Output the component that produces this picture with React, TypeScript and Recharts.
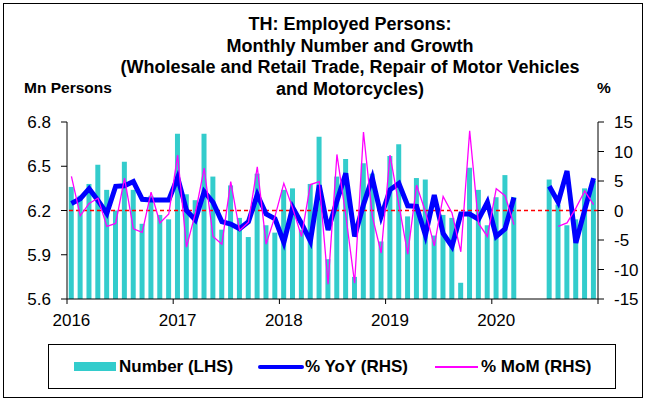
import React from "react";
import { ComposedChart, Bar, Line, XAxis, YAxis, ReferenceLine } from "recharts";

// months Jan 2016 .. Dec 2020
const years = [2016, 2017, 2018, 2019, 2020];
const months: string[] = [];
years.forEach((y) => {
  for (let m = 1; m <= 12; m++) months.push(`${y}-${m < 10 ? "0" + m : m}`);
});

// Mn persons (LHS)
const number: (number | null)[] = [
  6.36, 6.30, 6.38, 6.51, 6.34, 6.20, 6.53, 6.34, 6.11, 6.30, 6.17, 6.14,
  6.72, 6.31, 6.27, 6.72, 6.43, 6.07, 6.37, 6.15, 6.02, 6.45, 6.10, 6.05,
  6.34, 6.35, 6.07, 6.38, 6.70, 5.87, 6.43, 6.55, 5.75, 6.52, 6.45, 5.99,
  6.57, 6.65, 6.16, 6.42, 6.41, 6.03, 6.17, 6.15, 5.71, 6.49, 6.34, 6.10,
  6.29, 6.44, 6.29, null, null, null, 6.41, 6.24, 6.10, 6.14, 6.35, 6.40,
];

// % YoY (RHS)
const yoy: (number | null)[] = [
  1.2, 2.0, 3.7, 1.7, -0.5, 4.1, 4.2, 4.9, 1.9, 1.8, 1.8, 1.8,
  5.6, 0.0, -1.6, 3.2, 1.4, -1.9, -2.3, -3.1, -1.9, 2.7, -0.6, -1.4,
  -5.4, 0.5, -2.2, -5.2, 4.3, -3.3, 1.6, 6.3, -4.4, 1.0, 5.5, -1.0,
  3.5, 4.6, 0.8, 0.7, -4.2, 2.6, -3.9, -6.1, -0.6, -0.6, -1.5, 1.4,
  -4.4, -3.1, 2.2, null, null, null, 4.1, 1.4, 6.7, -5.5, 0.1, 5.5,
];

// % MoM (RHS)
const mom: (number | null)[] = [
  5.8, -0.9, 1.2, 2.1, -2.7, -2.2, 5.5, -3.1, -3.7, 3.1, -2.1, -0.6,
  9.4, -6.2, -0.5, 7.2, -4.4, -5.7, 4.9, -3.4, -2.0, 7.4, -5.7, -1.0,
  4.6, 0.4, -4.4, 4.4, 4.9, -12.5, 9.5, -0.8, -12.3, 13.3, -1.0, -7.2,
  9.4, 1.0, -7.4, 4.3, -0.2, -6.0, 2.4, -0.4, -7.0, 13.5, -2.2, -4.4,
  3.7, 2.5, -2.4, null, null, null, null, -2.7, -2.1, 0.4, 3.3, 1.0,
];

const leftTicks = [5.6, 5.9, 6.2, 6.5, 6.8];
const rightTicks = [-15, -10, -5, 0, 5, 10, 15];
const yearTicks = ["2016-01", "2017-01", "2018-01", "2019-01", "2020-01", "2020-12"];
const lastMonth = "2020-12";

const data = months.map((m, i) => ({ m, number: number[i], yoy: yoy[i], mom: mom[i] }));

const W = 645;
const H = 400;
const LEFT_W = 67;
const RIGHT_W = 47;
const TOP = 122;
const XAXIS_H = 101;
const BAND = (W - LEFT_W - RIGHT_W) / months.length;

const FONT = "'Liberation Sans', Arial, sans-serif";

const YearTick = (props: any) => {
  const { x, y, payload } = props;
  const v = payload.value as string;
  const end = v === lastMonth;
  const tx = end ? x + BAND / 2 : x - BAND / 2;
  return (
    <g>
      <line x1={tx} x2={tx} y1={y} y2={y + 5} stroke="#000" strokeWidth={1} />
      {!end && (
        <text x={x} y={y + 27} textAnchor="middle" fontSize={17} fill="#000" fontFamily={FONT}>
          {v.slice(0, 4)}
        </text>
      )}
    </g>
  );
};

const legendText: React.CSSProperties = {
  position: "absolute",
  top: 356,
  fontSize: 17,
  fontWeight: "bold",
  lineHeight: "22px",
  whiteSpace: "nowrap",
};

export default function App() {
  return (
    <div style={{ position: "absolute", left: 0, top: 0, width: W, height: H, background: "#fff", fontFamily: FONT, color: "#000" }}>
      <div style={{ position: "absolute", left: 3, top: 3, width: 638, height: 393, border: "1px solid #000" }} />
      <div
        style={{
          position: "absolute",
          left: 50,
          width: 600,
          top: 14,
          textAlign: "center",
          fontSize: 18,
          fontWeight: "bold",
          lineHeight: "21.5px",
        }}
      >
        <div>TH: Employed Persons:</div>
        <div>Monthly Number and Growth</div>
        <div>(Wholesale and Retail Trade, Repair of Motor Vehicles</div>
        <div>and Motorcycles)</div>
      </div>
      <div style={{ position: "absolute", left: 24, top: 79, fontSize: 15.5, fontWeight: "bold" }}>Mn Persons</div>
      <div style={{ position: "absolute", left: 597, top: 79, fontSize: 15.5, fontWeight: "bold" }}>%</div>

      <div style={{ position: "absolute", left: 0, top: 0 }}>
        <ComposedChart
          width={W}
          height={H}
          data={data}
          margin={{ top: TOP, right: 0, bottom: 0, left: 0 }}
          barCategoryGap="20%"
        >
          <XAxis
            dataKey="m"
            height={XAXIS_H}
            ticks={yearTicks}
            interval={0}
            tick={<YearTick />}
            tickLine={false}
            tickSize={0}
            tickMargin={0}
            axisLine={{ stroke: "#000", strokeWidth: 1 }}
          />
          <YAxis
            yAxisId="left"
            width={LEFT_W}
            domain={[5.6, 6.8]}
            ticks={leftTicks}
            tickFormatter={(v: number) => v.toFixed(1)}
            tick={{ fontSize: 17, fill: "#000" }}
            tickSize={6}
            tickMargin={10}
            axisLine={{ stroke: "#000" }}
            tickLine={{ stroke: "#000" }}
          />
          <YAxis
            yAxisId="right"
            orientation="right"
            width={RIGHT_W}
            domain={[-15, 15]}
            ticks={rightTicks}
            tick={{ fontSize: 17, fill: "#000" }}
            tickSize={6}
            tickMargin={10}
            axisLine={{ stroke: "#000" }}
            tickLine={{ stroke: "#000" }}
          />
          <Bar yAxisId="left" dataKey="number" fill="#33CCCC" isAnimationActive={false} />
          <ReferenceLine yAxisId="right" y={0} stroke="#FF0000" strokeWidth={1.3} strokeDasharray="4 3" />
          <Line
            yAxisId="right"
            dataKey="yoy"
            type="linear"
            stroke="#0000FF"
            strokeWidth={5}
            dot={false}
            connectNulls={false}
            isAnimationActive={false}
          />
          <Line
            yAxisId="right"
            dataKey="mom"
            type="linear"
            stroke="#FF00FF"
            strokeWidth={1.3}
            dot={false}
            connectNulls={false}
            isAnimationActive={false}
          />
        </ComposedChart>
      </div>

      <div style={{ position: "absolute", left: 48, top: 344, width: 566, height: 43, border: "1px solid #000" }} />
      <div style={{ position: "absolute", left: 74, top: 362, width: 42, height: 9, background: "#33CCCC" }} />
      <div style={{ ...legendText, left: 119 }}>Number (LHS)</div>
      <div style={{ position: "absolute", left: 258, top: 365, width: 46, height: 4, background: "#0000FF", borderRadius: 2 }} />
      <div style={{ ...legendText, left: 305 }}>% YoY (RHS)</div>
      <div style={{ position: "absolute", left: 435, top: 366, width: 43, height: 1.5, background: "#FF00FF" }} />
      <div style={{ ...legendText, left: 481 }}>% MoM (RHS)</div>
    </div>
  );
}
